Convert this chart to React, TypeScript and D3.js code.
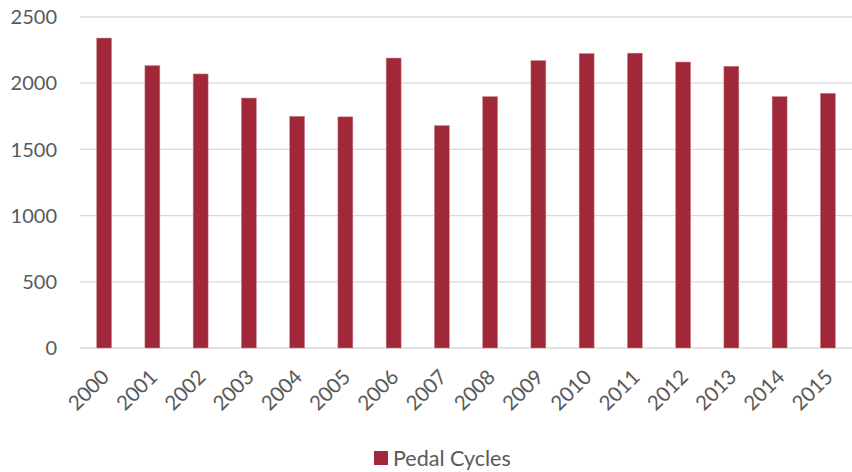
import React from 'react';
import * as d3 from 'd3';

// constants
const width = 852;
const height = 472;
const margin = { top: 17, right: 0, bottom: 124, left: 80 };

const years = ['2000', '2001', '2002', '2003', '2004', '2005', '2006', '2007',
  '2008', '2009', '2010', '2011', '2012', '2013', '2014', '2015'];
const pedalCycles = [2341, 2133, 2070, 1888, 1750, 1746, 2190, 1680,
  1899, 2171, 2224, 2227, 2160, 2128, 1899, 1924];
const yTicks = [0, 500, 1000, 1500, 2000, 2500];
const seriesName = 'Pedal Cycles';

const barColour = '#A02838';
const textColour = '#595959';
const font = 'Lato, "Open Sans", sans-serif';

const App = () => {
  const xScale = d3.scaleBand<string>()
    .domain(years)
    .range([margin.left, width - margin.right])
    .paddingInner(0.69)
    .paddingOuter(0.345);
  const yScale = d3.scaleLinear()
    .domain([0, 2500])
    .range([height - margin.bottom, margin.top]);

  return (
    <svg width={width} height={height}
      style={{ position: 'absolute', left: 0, top: 0, background: '#fff' }}>
      {/* gridlines */}
      {yTicks.map(t => (
        <line key={t} x1={margin.left} x2={width - margin.right}
          y1={yScale(t)} y2={yScale(t)} stroke="#d9d9d9" strokeWidth={1.3} />
      ))}
      {/* y labels */}
      {yTicks.map(t => (
        <text key={'l' + t} x={57} y={yScale(t)} dy="0.36em" textAnchor="end"
          fontFamily={font} fontSize={20} fill={textColour}>{t}</text>
      ))}
      {/* bars */}
      {pedalCycles.map((d, i) => (
        <rect key={years[i]} x={xScale(years[i])} y={yScale(d)}
          width={xScale.bandwidth()} height={yScale(0) - yScale(d)}
          fill={barColour} stroke="#c98a92" strokeWidth={0.5} />
      ))}
      {/* x labels */}
      {years.map(y => {
        const cx = (xScale(y) as number) + xScale.bandwidth() / 2 + 1;
        return (
          <text key={'x' + y} transform={`translate(${cx},${373}) rotate(-45)`}
            textAnchor="end" dy="0.36em" fontFamily={font} fontSize={20.5} fill={textColour}>{y}</text>
        );
      })}
      {/* legend */}
      <rect x={374} y={451} width={14} height={14} fill={barColour} />
      <text x={393} y={458} dy="0.36em" fontFamily={font} fontSize={21.5} fill={textColour}>{seriesName}</text>
    </svg>
  );
};

export default App;
